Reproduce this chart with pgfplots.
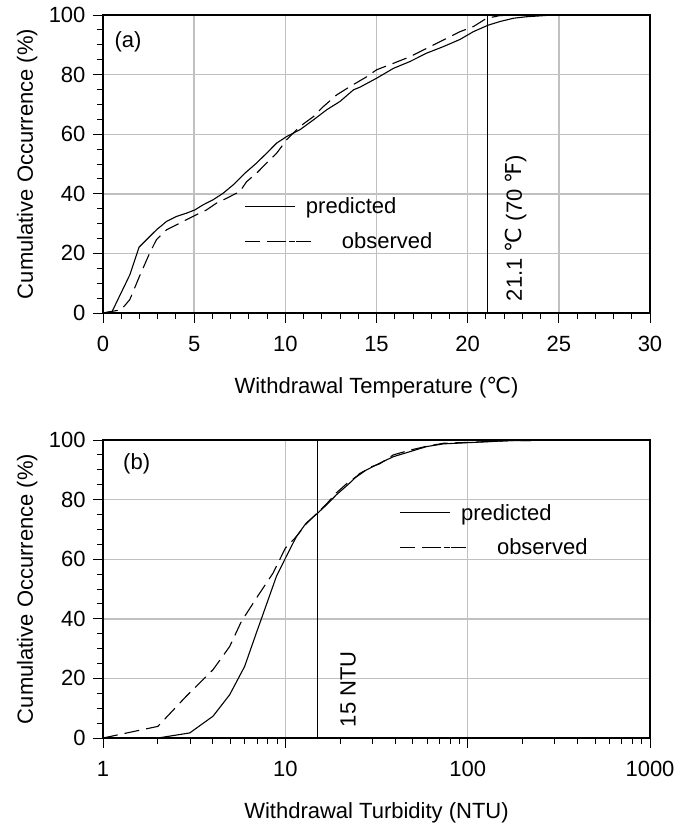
\documentclass[border=0pt]{standalone}
\usepackage{pgfplots}
\pgfplotsset{compat=1.18}
\usepackage{fontspec}
\setmainfont{Liberation Sans}
\newfontfamily\symfont{DejaVu Sans}
\newcommand{\degC}{{\symfont ℃}}
\newcommand{\degF}{{\symfont ℉}}

\definecolor{gridgray}{RGB}{192,192,192}

% temperature distribution (deg C, cumulative %)
\pgfplotstableread{
T     P
0     0
0.5   0.5
1.47  12.8
1.98  22.1
2.93  27.9
3.48  30.7
4.03  32.4
4.58  33.5
5.04  34.6
5.49  36.3
6.04  38.0
6.59  40.2
7.14  43.0
7.78  46.9
8.42  50.3
8.97  53.6
9.52  57.0
10.07 59.2
10.8  61.5
11.54 64.8
12.27 68.2
13.0  71.0
13.74 74.9
14.1  75.8
15.01 78.8
15.93 82.1
16.84 84.4
17.75 87.2
18.67 89.4
19.58 91.8
20.31 94.4
21.13 96.6
21.77 97.8
22.5  98.9
23.2  99.4
24.7  100
30    100
}\tempPred

\pgfplotstableread{
T     P
0     0
1.0   1.1
1.47  4.5
2.0   12.3
2.56  20.1
2.93  24.6
3.48  27.9
4.03  29.6
4.58  31.3
5.13  33.0
5.68  34.6
6.23  36.9
6.78  38.5
7.51  40.8
7.88  44.1
8.42  46.9
8.97  50.3
9.52  53.6
10.07 58.1
10.8  62.6
11.54 65.9
12.09 69.3
12.82 73.2
13.55 76.0
14.47 79.3
15.0  81.6
15.93 83.8
16.84 86.0
17.75 88.8
18.67 91.6
19.58 94.4
20.31 96.1
21.04 98.9
21.77 99.8
22.5  100
30    100
}\tempObs

% turbidity distribution (NTU, cumulative %)
\pgfplotstableread{
N     P
1     0
2     0
2.99  1.7
4.01  7.3
4.95  14.5
5.98  24.0
6.93  35.2
7.87  44.7
8.93  54.2
10    60.3
11.5  67.6
13    72.1
15    75.4
16.8  78.2
19.05 81.6
22.5  85.5
25.6  88.8
29    90.5
32.9  92.2
39.1  94.4
48.3  96.1
59.6  97.8
73.6  98.7
100   99.1
171   99.8
490   100
1000  100
}\turbPred

\pgfplotstableread{
N     P
1     0
2     3.9
2.86  14.0
4.01  22.9
4.95  30.7
5.74  39.1
7.23  48.6
8.56  55.3
10    63.7
11.5  67.6
13    71.8
15    75.6
16.8  78.5
19    82.2
22.5  86.2
25.6  88.4
29    90.8
32.9  92.0
39.1  95.0
48.3  96.6
59.6  97.9
73.6  98.9
100   99.2
171   99.8
490   100
1000  100
}\turbObs

\pgfplotsset{
  cdfaxis/.style={
    scale only axis, width=547pt, height=298pt,
    ymin=0, ymax=100, ytick={0,20,...,100}, minor y tick num=3,
    tick align=outside, tick pos=left,
    major tick length=10pt, minor tick length=6pt,
    every tick/.append style={black, line width=0.9pt},
    grid=major, major grid style={draw=gridgray, line width=1.4pt},
    axis line style={line width=1.3pt},
    /pgf/number format/assume math mode=true,
    xticklabel style={yshift=-10pt},
    yticklabel style={xshift=-4pt},
    ylabel={Cumulative Occurrence (\%)},
    ylabel style={at={(axis description cs:-0.128,0.5)}, anchor=base},
    xlabel style={at={(axis description cs:0.5,-0.2685)}, anchor=base},
    legend cell align=left,
    legend style={draw=none, fill=none, inner sep=0pt,
      nodes={inner sep=2pt}, column sep=8pt, row sep=13pt},
  },
  predline/.style={black, line width=1.1pt,
    legend image code/.code={\draw[black, line width=1.1pt] (0pt,0pt) -- (50pt,0pt);}},
  obsline/.style={black, line width=1.1pt, dash pattern=on 15pt off 7pt,
    legend image code/.code={%
      \draw[black, line width=1.1pt, overlay]
        (0pt,0pt) -- (17pt,0pt) (25.5pt,0pt) -- (42.5pt,0pt) (51pt,0pt) -- (68pt,0pt);
      \path (0pt,0pt) -- (50pt,0pt);}},
}

\begin{document}
\begin{tikzpicture}[font=\fontsize{22}{26}\selectfont]
\begin{axis}[cdfaxis,
  at={(0pt,0pt)}, anchor=south west,
  xmin=0, xmax=30, xtick={0,5,...,30}, minor x tick num=4,
  xlabel={Withdrawal Temperature (\degC)},
  legend style={at={(axis cs:7.77,29.9)}, anchor=west},
]
\addplot[predline] table[x=T, y=P] {\tempPred};
\addlegendentry{predicted}
\addplot[obsline] table[x=T, y=P] {\tempObs};
\addlegendentry{\hspace{36pt}observed}
\addplot[black, line width=0.8pt, forget plot] coordinates {(21.1,0) (21.1,100)};
\node at (axis cs:1.37,91) {(a)};
\node[rotate=90] at (axis cs:22.65,28.5) {21.1 \degC{} (70 \degF)};
\end{axis}

\begin{axis}[cdfaxis,
  at={(0pt,-425pt)}, anchor=south west,
  xmode=log, xmin=1, xmax=1000,
  xtick={1,10,100,1000}, xticklabels={1,10,100,1000},
  xlabel={Withdrawal Turbidity (NTU)},
  legend style={at={(axis cs:42.4,69.8)}, anchor=west},
]
\addplot[predline] table[x=N, y=P] {\turbPred};
\addlegendentry{predicted}
\addplot[obsline] table[x=N, y=P] {\turbObs};
\addlegendentry{\hspace{36pt}observed}
\addplot[black, line width=0.8pt, forget plot] coordinates {(15,0) (15,100)};
\node at (axis cs:1.53,92) {(b)};
\node[rotate=90] at (axis cs:22.1,16.4) {15 NTU};
\end{axis}

\pgfresetboundingbox
\path[use as bounding box] (-103pt,-512pt) rectangle (573pt,313pt);
\end{tikzpicture}
\end{document}
